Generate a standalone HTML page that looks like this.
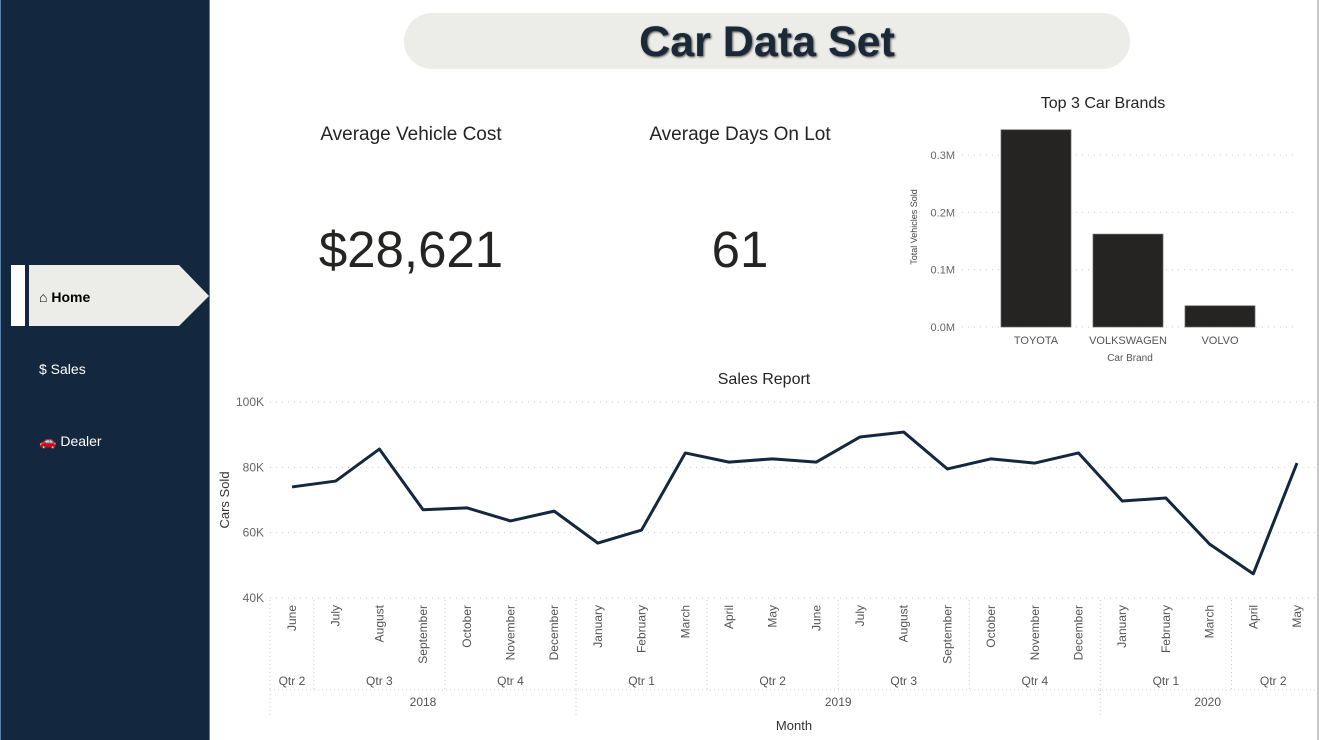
<!DOCTYPE html>
<html><head><meta charset="utf-8">
<style>
body{margin:0;width:1319px;height:740px;overflow:hidden;background:#fff;font-family:"Liberation Sans",sans-serif;position:relative}
.abs{position:absolute}
</style></head><body>
<div class="abs" style="left:0;top:0;width:208px;height:740px;background:#13283f;border-right:1px solid #5a7fa8;border-left:1px solid #5a7fa8"></div>
<div class="abs" style="left:11px;top:265px;width:14px;height:61px;background:#fff"></div>
<svg class="abs" style="left:29px;top:265px" width="181" height="62"><polygon points="0,0 150,0 180,31 150,61 0,61" fill="#ecede8"/></svg>
<div class="abs" style="left:39px;top:289px;font-size:14px;font-weight:bold;color:#000">⌂ Home</div>
<div class="abs" style="left:39px;top:361px;font-size:14px;color:#fff">$ Sales</div>
<div class="abs" style="left:39px;top:433px;font-size:14px;color:#fff"><span style="color:#d44">🚗</span> Dealer</div>
<div class="abs" style="left:404px;top:13px;width:726px;height:56px;background:#ecede8;border-radius:28px;text-align:center;line-height:58px;font-size:43px;font-weight:bold;color:#1b2838;text-shadow:1px 1px 2px #555">Car Data Set</div>
<div class="abs" style="left:261px;top:124px;width:300px;text-align:center;font-size:19px;color:#252423">Average Vehicle Cost</div>
<div class="abs" style="left:261px;top:220px;width:300px;text-align:center;font-size:51px;color:#252423">$28,621</div>
<div class="abs" style="left:590px;top:124px;width:300px;text-align:center;font-size:19px;color:#252423">Average Days On Lot</div>
<div class="abs" style="left:590px;top:220px;width:300px;text-align:center;font-size:51px;color:#252423">61</div>
<div class="abs" style="left:1317px;top:0;width:2px;height:740px;background:#c8c8c8"></div>
<svg id="bar" class="abs" style="left:0;top:0" width="1319" height="740"></svg>
<script>
const brands=["TOYOTA","VOLKSWAGEN","VOLVO"];
const sold=[0.344,0.162,0.037];
const bTicks=[0,0.1,0.2,0.3];
const months=["June","July","August","September","October","November","December","January","February","March","April","May","June","July","August","September","October","November","December","January","February","March","April","May"];
const sales=[74,75.8,85.6,67,67.6,63.6,66.6,56.8,60.8,84.4,81.6,82.6,81.6,89.3,90.8,79.5,82.6,81.3,84.4,69.7,70.6,56.5,47.4,81.3];
const sTicks=[40,60,80,100];
const quarters=[["Qtr 2",0,1],["Qtr 3",1,4],["Qtr 4",4,7],["Qtr 1",7,10],["Qtr 2",10,13],["Qtr 3",13,16],["Qtr 4",16,19],["Qtr 1",19,22],["Qtr 2",22,24]];
const years=[["2018",0,7],["2019",7,19],["2020",19,24]];
const NS="http://www.w3.org/2000/svg";
const svg=document.getElementById('bar');
function mk(t,a,txt){const e=document.createElementNS(NS,t);for(const k in a)e.setAttribute(k,a[k]);if(txt!=null)e.textContent=txt;svg.appendChild(e);return e;}
const by=v=>327-v/0.3*172, bx=i=>1036+i*92;
let e=mk('text',{x:1103,y:108,'text-anchor':'middle','font-size':16,fill:'#252423'},'Top 3 Car Brands');

bTicks.forEach(t=>{mk('line',{x1:962,x2:1295,y1:by(t),y2:by(t),stroke:'#ccc','stroke-dasharray':'1 5'});
 e=mk('text',{x:955,y:by(t)+4,'text-anchor':'end','font-size':11,fill:'#666'},t.toFixed(1)+'M');
 });
brands.forEach((b,i)=>{e=mk('rect',{x:bx(i)-35,y:by(sold[i]),width:70,height:by(0)-by(sold[i]),fill:'#252423',stroke:'#666','stroke-width':0.7});
 
 e=mk('text',{x:bx(i),y:344,'text-anchor':'middle','font-size':11,fill:'#555'},b);
 });
e=mk('text',{x:1130,y:361,'text-anchor':'middle','font-size':10,fill:'#555'},'Car Brand');

e=mk('text',{x:0,y:0,'text-anchor':'middle','font-size':9,fill:'#444',transform:'translate(917,227) rotate(-90)'},'Total Vehicles Sold');

const lx=i=>292+i*((1297-292)/23), ly=v=>598-(v-40)/60*196;
e=mk('text',{x:764,y:384,'text-anchor':'middle','font-size':16,fill:'#252423'},'Sales Report');

sTicks.forEach(t=>{mk('line',{x1:270,x2:1315,y1:ly(t),y2:ly(t),stroke:'#ccc','stroke-dasharray':'1 5'});
 e=mk('text',{x:264,y:ly(t)+4,'text-anchor':'end','font-size':12,fill:'#666'},t+'K');
 });
e=mk('text',{x:0,y:0,'text-anchor':'middle','font-size':13,fill:'#333',transform:'translate(229,500) rotate(-90)'},'Cars Sold');

e=mk('polyline',{points:sales.map((v,i)=>lx(i)+','+ly(v)).join(' '),fill:'none',stroke:'#13283f','stroke-width':3,'stroke-linejoin':'round'});

months.forEach((m,i)=>{e=mk('text',{x:0,y:0,'text-anchor':'end','font-size':12,fill:'#555',transform:`translate(${lx(i)+4},605) rotate(-90)`},m);
 });
const bnd=i=>i===0?270:(i>=24?1315:(lx(i-1)+lx(i))/2);
quarters.forEach(q=>{mk('line',{x1:bnd(q[1]),x2:bnd(q[1]),y1:600,y2:690,stroke:'#ccc','stroke-dasharray':'1 3'});
 e=mk('text',{x:(bnd(q[1])+bnd(q[2]))/2,y:685,'text-anchor':'middle','font-size':12,fill:'#555'},q[0]);
 });
mk('line',{x1:270,x2:1315,y1:690,y2:690,stroke:'#ccc','stroke-dasharray':'1 3'});
years.forEach(y=>{mk('line',{x1:bnd(y[1]),x2:bnd(y[1]),y1:690,y2:715,stroke:'#ccc','stroke-dasharray':'1 3'});
 e=mk('text',{x:(bnd(y[1])+bnd(y[2]))/2,y:706,'text-anchor':'middle','font-size':12,fill:'#555'},y[0]);
 });
e=mk('text',{x:794,y:730,'text-anchor':'middle','font-size':13,fill:'#333'},'Month');

</script>
</body></html>
